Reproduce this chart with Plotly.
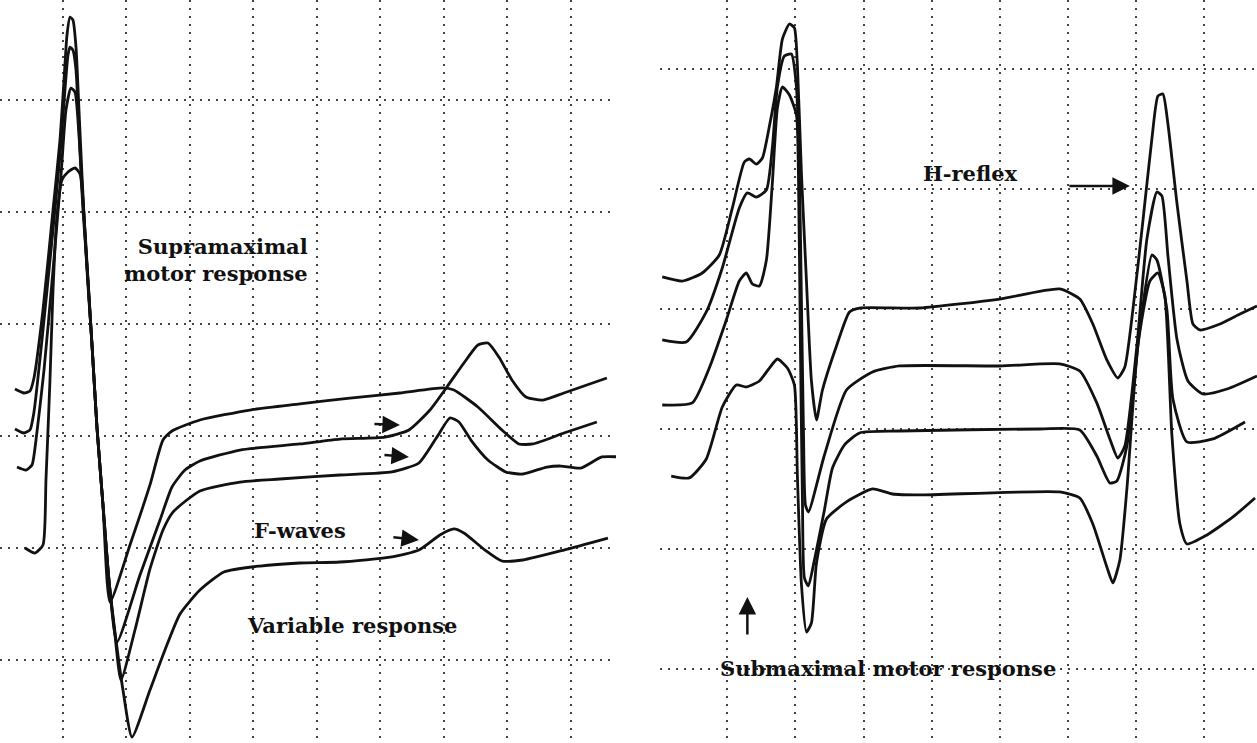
import plotly.graph_objects as go

# ---------------- Left panel: supramaximal stimulation, F-waves ----------------
# time in grid divisions, amplitude in grid divisions
L1_t = [-0.756, -0.614, -0.520, -0.457, -0.315, -0.157, -0.047, 0.016, 0.063, 0.110, 0.157, 0.205,
        0.252, 0.299, 0.378, 0.457, 0.535, 0.630, 0.740, 1.055, 1.370, 1.575, 1.717, 2.157, 2.945,
        3.732, 4.520, 5.307, 5.984, 6.157, 6.535, 6.913, 7.181, 7.402, 7.890, 8.409]
L1_v = [2.420, 2.384, 2.402, 2.518, 3.125, 4.018, 4.643, 5.179, 5.580, 5.741, 5.714, 5.473,
        4.911, 4.330, 3.482, 2.813, 2.080, 1.384, 0.518, 1.027, 1.563, 1.964, 2.045, 2.143, 2.232,
        2.286, 2.339, 2.384, 2.429, 2.411, 2.259, 2.054, 1.929, 1.929, 2.027, 2.125]

L2_t = [-0.756, -0.614, -0.520, -0.457, -0.331, -0.173, -0.047, 0.031, 0.079, 0.110, 0.157, 0.205,
        0.268, 0.362, 0.457, 0.535, 0.630, 0.724, 0.850, 1.213, 1.528, 1.717, 1.921, 2.157, 2.787,
        3.732, 4.362, 5.071, 5.449, 5.780, 6.047, 6.315, 6.535, 6.693, 6.866, 7.071, 7.291, 7.559,
        7.890, 8.567]
L2_v = [2.063, 2.027, 2.054, 2.214, 2.857, 3.750, 4.509, 5.089, 5.402, 5.473, 5.446, 5.268,
        4.554, 3.661, 2.813, 2.080, 1.384, 0.714, 0.161, 0.759, 1.250, 1.545, 1.696, 1.777, 1.875,
        1.929, 1.973, 1.991, 2.054, 2.232, 2.438, 2.652, 2.813, 2.830, 2.705, 2.500, 2.348, 2.321,
        2.384, 2.518]

L3_t = [-0.724, -0.583, -0.488, -0.425, -0.299, -0.157, -0.031, 0.047, 0.126, 0.189, 0.252, 0.315,
        0.394, 0.457, 0.535, 0.630, 0.724, 0.819, 0.913, 1.134, 1.370, 1.575, 1.732, 2.157, 2.787,
        3.417, 4.362, 5.181, 5.606, 5.890, 6.094, 6.236, 6.425, 6.693, 6.976, 7.244, 7.622, 7.843,
        8.157, 8.488, 8.772]
L3_v = [1.723, 1.696, 1.741, 1.964, 2.589, 3.482, 4.330, 4.911, 5.107, 5.071, 4.688, 4.018,
        3.393, 2.813, 2.080, 1.384, 0.714, 0.223, -0.179, 0.268, 0.813, 1.161, 1.321, 1.509, 1.589,
        1.616, 1.652, 1.679, 1.759, 1.991, 2.161, 2.125, 1.964, 1.786, 1.679, 1.661, 1.723, 1.732,
        1.714, 1.813, 1.813]

L4_t = [-0.598, -0.441, -0.315, -0.268, -0.205, -0.157, -0.094, -0.016, 0.079, 0.189, 0.268, 0.331,
        0.394, 0.457, 0.535, 0.630, 0.724, 0.835, 0.945, 1.087, 1.370, 1.606, 1.843, 2.157, 2.535,
        3.102, 3.732, 4.362, 5.181, 5.606, 5.937, 6.157, 6.315, 6.646, 6.913, 7.244, 7.890, 8.583]
L4_v = [1.000, 0.955, 1.027, 1.607, 2.500, 3.304, 3.973, 4.286, 4.357, 4.393, 4.339, 3.973,
        3.393, 2.813, 2.080, 1.384, 0.714, 0.179, -0.268, -0.688, -0.268, 0.089, 0.411, 0.625, 0.786,
        0.839, 0.866, 0.875, 0.920, 0.982, 1.116, 1.170, 1.134, 0.982, 0.884, 0.893, 0.982, 1.089]

# ---------------- Right panel: submaximal stimulation, H-reflex ----------------
R1_t = [-0.956, -0.662, -0.368, -0.118, 0.074, 0.250, 0.324, 0.426, 0.515, 0.618, 0.721, 0.809,
        0.912, 0.985, 1.029, 1.088, 1.162, 1.235, 1.309, 1.397, 1.603, 1.794, 1.941, 2.824, 4.000,
        4.882, 5.176, 5.368, 5.574, 5.735, 5.838, 5.956, 6.103, 6.235, 6.324, 6.397, 6.471, 6.603,
        6.750, 6.838, 6.941, 7.235, 7.529, 7.779]
R1_v = [3.267, 3.233, 3.300, 3.450, 3.842, 4.225, 4.250, 4.208, 4.258, 4.525, 4.850, 5.250,
        5.375, 5.342, 5.033, 4.133, 3.233, 2.400, 2.075, 2.325, 2.692, 2.975, 3.008, 3.008, 3.083,
        3.167, 3.083, 2.875, 2.575, 2.425, 2.517, 2.992, 3.733, 4.417, 4.775, 4.792, 4.542, 3.883,
        3.233, 2.875, 2.825, 2.875, 2.958, 3.025]

R2_t = [-0.956, -0.603, -0.309, -0.074, 0.176, 0.294, 0.426, 0.574, 0.662, 0.735, 0.838, 0.941,
        1.015, 1.059, 1.088, 1.118, 1.147, 1.191, 1.426, 1.750, 2.132, 2.529, 4.000, 4.882, 5.176,
        5.426, 5.618, 5.735, 5.838, 6.015, 6.162, 6.309, 6.382, 6.471, 6.603, 6.765, 6.985, 7.338,
        7.779]
R2_v = [2.742, 2.725, 2.975, 3.342, 3.842, 3.967, 3.933, 3.992, 4.350, 4.850, 5.108, 5.125,
        4.850, 4.133, 3.075, 1.992, 1.367, 1.308, 1.783, 2.325, 2.475, 2.525, 2.525, 2.542, 2.483,
        2.217, 1.917, 1.758, 1.858, 2.692, 3.583, 3.975, 3.942, 3.442, 2.750, 2.400, 2.292, 2.333,
        2.442]

R3_t = [-0.956, -0.515, -0.265, -0.015, 0.176, 0.279, 0.368, 0.471, 0.574, 0.662, 0.735, 0.809,
        0.912, 1.015, 1.044, 1.074, 1.103, 1.132, 1.191, 1.279, 1.426, 1.544, 1.721, 1.941, 2.529,
        4.588, 5.176, 5.426, 5.618, 5.721, 5.868, 6.059, 6.235, 6.309, 6.456, 6.544, 6.750, 7.132,
        7.603]
R3_v = [2.200, 2.217, 2.508, 2.908, 3.233, 3.300, 3.208, 3.192, 3.408, 4.058, 4.675, 4.850,
        4.783, 4.617, 4.133, 2.658, 1.408, 0.758, 0.692, 0.908, 1.325, 1.675, 1.867, 1.967, 1.983,
        2.000, 1.992, 1.775, 1.550, 1.567, 1.858, 2.842, 3.450, 3.408, 2.992, 2.250, 1.892, 1.917,
        2.058]

R4_t = [-0.824, -0.559, -0.309, -0.074, 0.132, 0.279, 0.471, 0.618, 0.735, 0.882, 0.985, 1.029,
        1.088, 1.162, 1.235, 1.309, 1.456, 1.750, 2.132, 2.426, 2.824, 4.882, 5.176, 5.368, 5.574,
        5.662, 5.765, 5.868, 6.029, 6.206, 6.324, 6.426, 6.529, 6.647, 6.750, 7.044, 7.426, 7.750]
R4_v = [1.608, 1.592, 1.750, 2.183, 2.367, 2.350, 2.400, 2.508, 2.583, 2.508, 2.367, 1.608,
        0.708, 0.308, 0.383, 0.883, 1.250, 1.392, 1.500, 1.458, 1.450, 1.475, 1.425, 1.208, 0.850,
        0.717, 0.908, 1.500, 2.692, 3.233, 3.300, 3.108, 1.950, 1.208, 1.042, 1.117, 1.267, 1.425]

left_traces = [(L1_t, L1_v), (L2_t, L2_v), (L3_t, L3_v), (L4_t, L4_v)]
right_traces = [(R1_t, R1_v), (R2_t, R2_v), (R3_t, R3_v), (R4_t, R4_v)]

INK = "#111111"
fig = go.Figure()
line_style = dict(color=INK, width=2.8, shape="spline", smoothing=0.55)
for t, v in left_traces:
    fig.add_trace(go.Scatter(x=t, y=v, mode="lines", line=line_style,
                             xaxis="x", yaxis="y", showlegend=False, hoverinfo="skip"))
for t, v in right_traces:
    fig.add_trace(go.Scatter(x=t, y=v, mode="lines", line=line_style,
                             xaxis="x2", yaxis="y2", showlegend=False, hoverinfo="skip"))

grid = dict(showgrid=True, gridcolor="#444444", gridwidth=2, griddash="2px,6px",
            dtick=1, tick0=0, showticklabels=False, ticks="", zeroline=False,
            showline=False, fixedrange=True)

fig.update_layout(
    width=1257, height=743,
    margin=dict(l=0, r=0, t=0, b=0),
    paper_bgcolor="white", plot_bgcolor="white",
    xaxis=dict(domain=[0, 0.49], range=[-0.992, 8.709], **grid),
    yaxis=dict(domain=[0, 1], range=[-0.741, 5.893], **grid),
    xaxis2=dict(domain=[0.525, 1], range=[-0.99, 7.779], anchor="y2", **grid),
    yaxis2=dict(domain=[0, 1], range=[-0.617, 5.575], anchor="x2", **grid),
    font=dict(family="DejaVu Serif", color=INK),
)

txt = dict(family="DejaVu Serif", size=21, color=INK, weight="bold")
ann = [
    dict(x=3.89, y=3.571, xref="x", yref="y", text="Supramaximal<br>motor response",
         showarrow=False, xanchor="right", yanchor="middle", align="right", font=txt),
    dict(x=3.732, y=1.152, xref="x", yref="y", text="F-waves", showarrow=False, font=txt),
    dict(x=4.551, y=0.304, xref="x", yref="y", text="Variable response", showarrow=False, font=txt),
    dict(x=3.574, y=4.125, xref="x2", yref="y2", text="H-reflex", showarrow=False, font=txt),
    dict(x=2.353, y=0.008, xref="x2", yref="y2", text="Submaximal motor response",
         showarrow=False, font=txt),
]
arrow = dict(showarrow=True, arrowhead=2, arrowsize=1.4, arrowwidth=2.5, arrowcolor=INK, text="")
ann += [
    dict(x=5.307, y=2.098, xref="x", yref="y", ax=-27, ay=-1, **arrow),
    dict(x=5.449, y=1.813, xref="x", yref="y", ax=-26, ay=-2, **arrow),
    dict(x=5.606, y=1.071, xref="x", yref="y", ax=-27, ay=-3, **arrow),
    dict(x=5.912, y=4.025, xref="x2", yref="y2", ax=-62, ay=0, **arrow),
    dict(x=0.294, y=0.600, xref="x2", yref="y2", ax=0, ay=39, **arrow),
]
fig.update_layout(annotations=ann)

fig.write_html("out.html", config={"displayModeBar": False},
               post_script="document.body.style.margin='0';")
